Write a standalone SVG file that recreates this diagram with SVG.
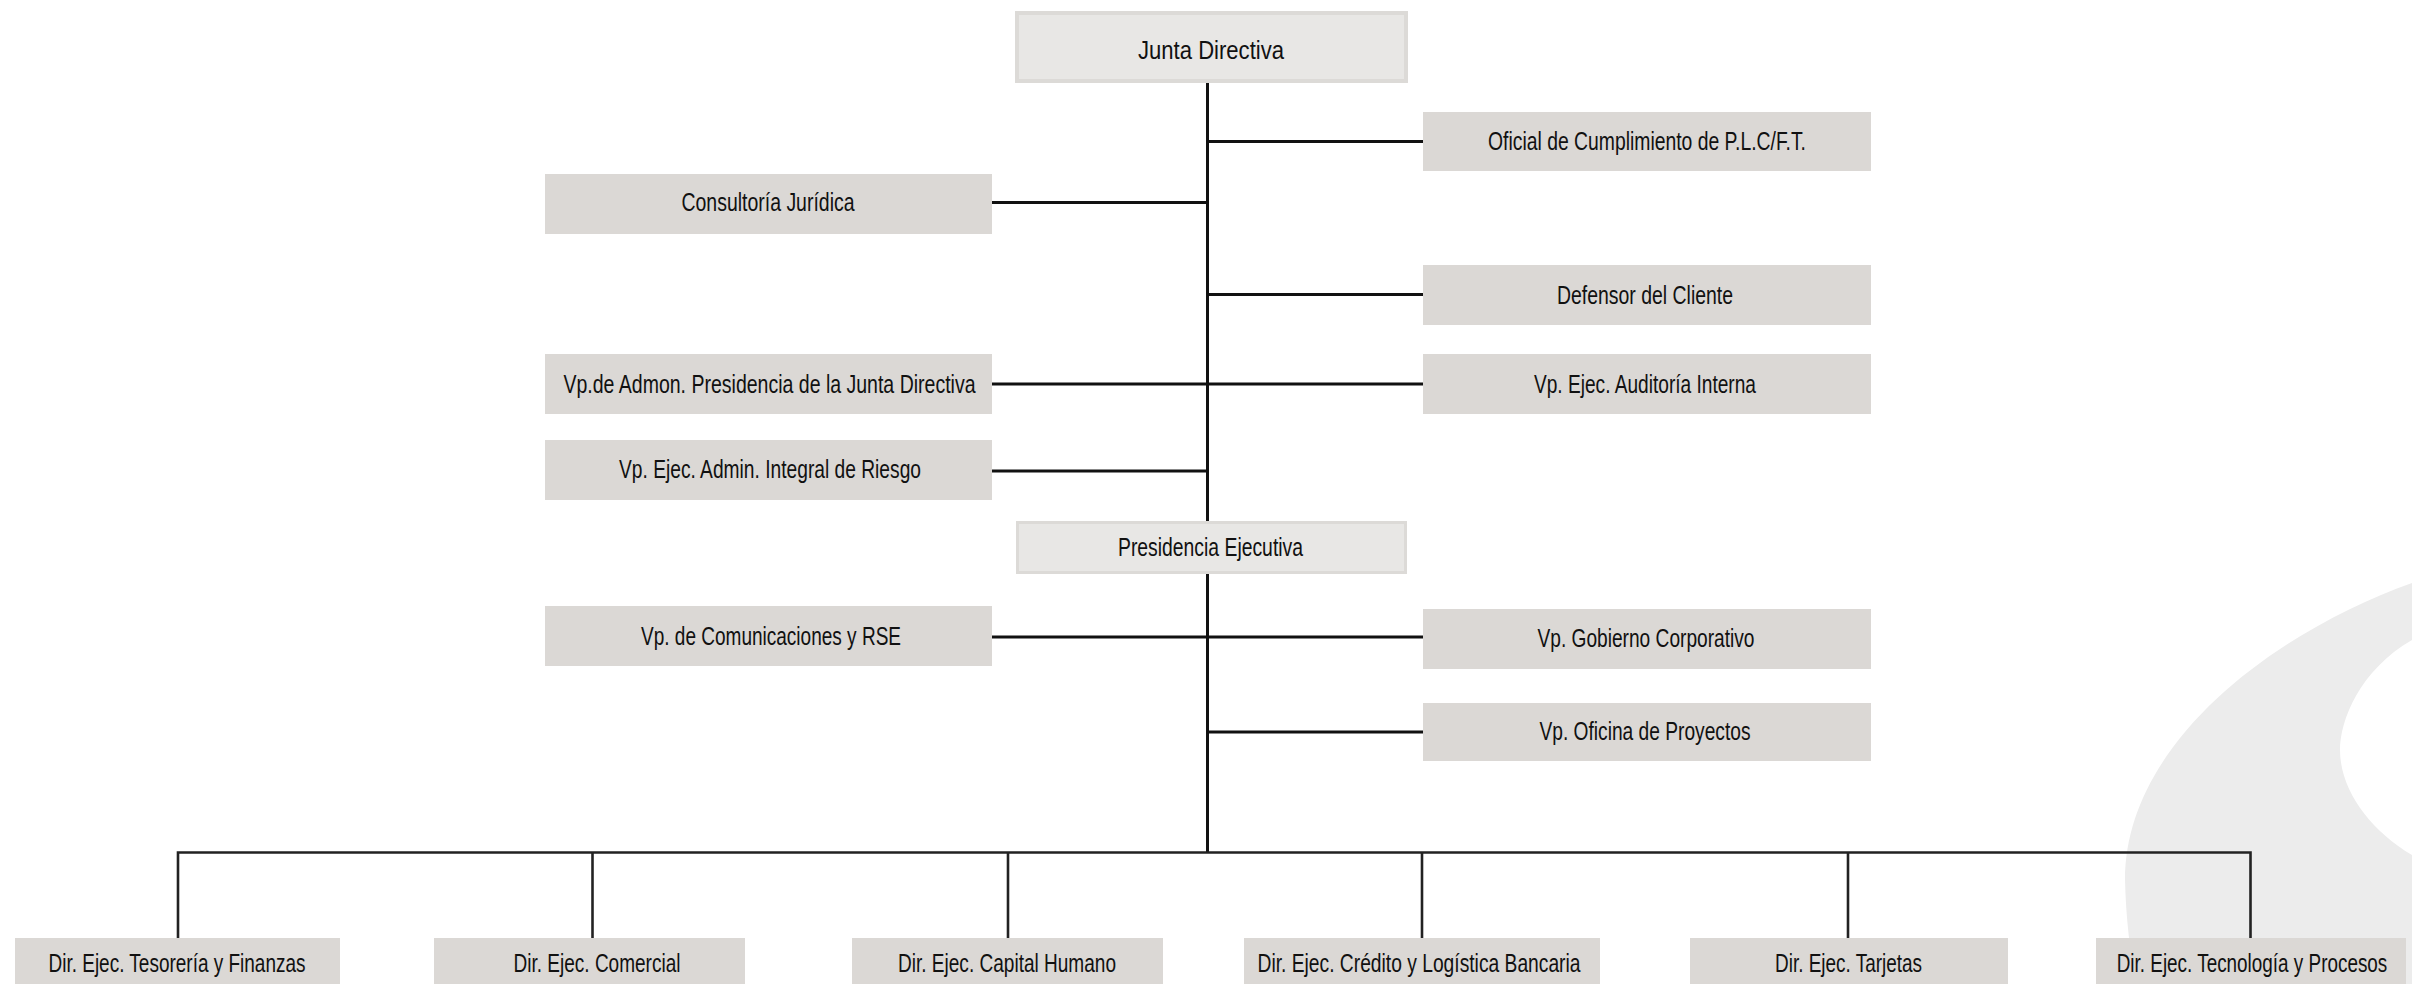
<svg xmlns="http://www.w3.org/2000/svg" width="2412" height="984" viewBox="0 0 2412 984">
<style>
.bg{fill:#ececec}
.main{fill:#e8e7e5;stroke:#dcdad7}
.box{fill:#dbd8d5}
.t{font-family:"Liberation Sans",Arial,sans-serif;font-size:25px;fill:#111;text-anchor:middle}
.ln{stroke:#111;stroke-width:3;fill:none}
.lnb{stroke:#222;stroke-width:2.6;fill:none}
</style>
<rect width="2412" height="984" fill="#ffffff"/>
<path class="bg" fill-rule="evenodd" d="M2412,583 C2280,630 2125,740 2125,880 C2126,920 2130,950 2136,984 L2412,984 Z M2412,640 C2360,670 2340,720 2340,750 C2340,790 2370,830 2412,855 Z"/>
<g id="connectors">
<line class="ln" x1="1207.5" y1="83" x2="1207.5" y2="853"/>
<line class="ln" x1="1207.5" y1="141.5" x2="1423" y2="141.5"/>
<line class="ln" x1="992" y1="202.5" x2="1207.5" y2="202.5"/>
<line class="ln" x1="1207.5" y1="294.5" x2="1423" y2="294.5"/>
<line class="ln" x1="992" y1="384" x2="1423" y2="384"/>
<line class="ln" x1="992" y1="471" x2="1207.5" y2="471"/>
<line class="ln" x1="992" y1="637" x2="1423" y2="637"/>
<line class="ln" x1="1207.5" y1="732" x2="1423" y2="732"/>
<path class="lnb" d="M178,938 V852.5 H2250.5 V938"/>
<line class="lnb" x1="592.5" y1="852.5" x2="592.5" y2="938"/>
<line class="lnb" x1="1008" y1="852.5" x2="1008" y2="938"/>
<line class="lnb" x1="1422" y1="852.5" x2="1422" y2="938"/>
<line class="lnb" x1="1848" y1="852.5" x2="1848" y2="938"/>
</g>
<g id="junta-directiva">
<rect class="main" x="1017" y="13" width="389" height="68" stroke-width="4"/>
<text class="t" x="1211" y="58.5" textLength="146" lengthAdjust="spacingAndGlyphs">Junta Directiva</text>
</g>
<g id="oficial-cumplimiento">
<rect class="box" x="1423" y="112" width="448" height="59"/>
<text class="t" x="1647" y="150" textLength="318" lengthAdjust="spacingAndGlyphs">Oficial de Cumplimiento de P.L.C/F.T.</text>
</g>
<g id="consultoria-juridica">
<rect class="box" x="545" y="174" width="447" height="60"/>
<text class="t" x="768" y="211" textLength="173" lengthAdjust="spacingAndGlyphs">Consultoría Jurídica</text>
</g>
<g id="defensor-cliente">
<rect class="box" x="1423" y="265" width="448" height="60"/>
<text class="t" x="1645" y="303.5" textLength="176" lengthAdjust="spacingAndGlyphs">Defensor del Cliente</text>
</g>
<g id="vp-admon-presidencia">
<rect class="box" x="545" y="354" width="447" height="60"/>
<text class="t" x="769.5" y="392.5" textLength="412" lengthAdjust="spacingAndGlyphs">Vp.de Admon. Presidencia de la Junta Directiva</text>
</g>
<g id="vp-auditoria">
<rect class="box" x="1423" y="354" width="448" height="60"/>
<text class="t" x="1645" y="392.5" textLength="222" lengthAdjust="spacingAndGlyphs">Vp. Ejec. Auditoría Interna</text>
</g>
<g id="vp-riesgo">
<rect class="box" x="545" y="440" width="447" height="60"/>
<text class="t" x="770" y="477.5" textLength="302" lengthAdjust="spacingAndGlyphs">Vp. Ejec. Admin. Integral de Riesgo</text>
</g>
<g id="presidencia-ejecutiva">
<rect class="main" x="1017.5" y="522.5" width="388" height="50" stroke-width="3"/>
<text class="t" x="1210.5" y="555.5" textLength="185" lengthAdjust="spacingAndGlyphs">Presidencia Ejecutiva</text>
</g>
<g id="vp-comunicaciones">
<rect class="box" x="545" y="606" width="447" height="60"/>
<text class="t" x="771" y="644.5" textLength="260" lengthAdjust="spacingAndGlyphs">Vp. de Comunicaciones y RSE</text>
</g>
<g id="vp-gobierno">
<rect class="box" x="1423" y="609" width="448" height="60"/>
<text class="t" x="1646" y="646.5" textLength="217" lengthAdjust="spacingAndGlyphs">Vp. Gobierno Corporativo</text>
</g>
<g id="vp-proyectos">
<rect class="box" x="1423" y="703" width="448" height="58"/>
<text class="t" x="1645" y="739.5" textLength="211" lengthAdjust="spacingAndGlyphs">Vp. Oficina de Proyectos</text>
</g>
<g id="dir-tesoreria">
<rect class="box" x="15" y="938" width="325" height="60"/>
<text class="t" x="177" y="971.5" textLength="257" lengthAdjust="spacingAndGlyphs">Dir. Ejec. Tesorería y Finanzas</text>
</g>
<g id="dir-comercial">
<rect class="box" x="434" y="938" width="311" height="60"/>
<text class="t" x="597" y="971.5" textLength="167" lengthAdjust="spacingAndGlyphs">Dir. Ejec. Comercial</text>
</g>
<g id="dir-capital-humano">
<rect class="box" x="852" y="938" width="311" height="60"/>
<text class="t" x="1007" y="971.5" textLength="218" lengthAdjust="spacingAndGlyphs">Dir. Ejec. Capital Humano</text>
</g>
<g id="dir-credito">
<rect class="box" x="1244" y="938" width="356" height="60"/>
<text class="t" x="1419" y="971.5" textLength="323" lengthAdjust="spacingAndGlyphs">Dir. Ejec. Crédito y Logística Bancaria</text>
</g>
<g id="dir-tarjetas">
<rect class="box" x="1690" y="938" width="318" height="60"/>
<text class="t" x="1848.5" y="971.5" textLength="147" lengthAdjust="spacingAndGlyphs">Dir. Ejec. Tarjetas</text>
</g>
<g id="dir-tecnologia">
<rect class="box" x="2096" y="938" width="310" height="60"/>
<text class="t" x="0" y="0" transform="translate(2252 971.5) scale(0.756 1)">Dir. Ejec. Tecnología y Procesos</text>
</g>
</svg>
